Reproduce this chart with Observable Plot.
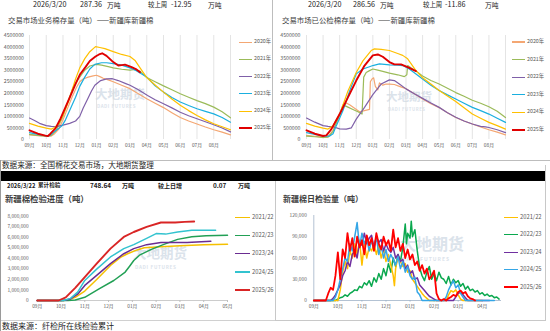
<!DOCTYPE html>
<html><head><meta charset="utf-8">
<script src="https://cdn.jsdelivr.net/npm/d3@7"></script>
<script src="https://cdn.jsdelivr.net/npm/@observablehq/plot@0.6"></script>
<style>
body{margin:0;width:550px;height:331px;overflow:hidden;background:#fff;font-family:"Noto Sans CJK SC",sans-serif;}
#root{position:relative;width:550px;height:331px;overflow:hidden;}
.t{position:absolute;white-space:pre;line-height:1;color:#222;}
.p{position:absolute;}
.b{position:absolute;}
</style></head><body><div id="root"></div>
<script>
// ---------- labels ----------
const monthsTop = ["09月","10月","11月","12月","01月","02月","03月","04月","05月","06月","07月","08月"];
const monthsBottom = ["09月","10月","11月","12月","01月","02月","03月","04月","05月"];
const yearsTop = ["2020年","2021年","2022年","2023年","2024年","2025年"];
const colorsTop = ["#F4A773","#9BBB59","#7F60A8","#1AAFDF","#FFC000","#E00000"];
const seasons = ["2021/22","2022/23","2023/24","2024/25","2025/26"];
const colorsProg = ["#F5C000","#22A055","#6A2C91","#33C3CF","#D92525"];
const colorsDaily = ["#FFC000","#0AA84E","#7030A0","#35A6E6","#FF0000"];

// ---------- 业务棉存量 (万吨), [月序, 值]  月序0 = 9月1日 ----------
const biz2020 = [[0,20],[0.5,17],[1,14],[1.3,15],[1.5,25],[1.75,45],[2,85],[2.3,140],[2.55,185],[2.8,225],[3,250],[3.2,262],[3.5,270],[3.8,275],[4,278],[4.2,272],[4.4,265],[4.7,258],[5,250],[5.5,235],[6,220],[6.5,198],[7,176],[7.5,157],[8,138],[8.5,116],[9,95],[9.5,80],[10,67],[10.5,54],[11,42],[11.5,32],[12,20]];
const biz2021 = [[0,22],[0.5,18],[1,14],[1.3,18],[1.6,40],[2,100],[2.3,165],[2.6,225],[2.95,265],[3.3,300],[3.6,318],[4,325],[4.3,322],[4.7,315],[5,310],[5.5,304],[6,300],[6.3,303],[6.6,296],[7,268],[7.5,250],[8,232],[8.5,215],[9,198],[9.5,183],[10,168],[10.5,155],[11,140],[11.5,120],[12,94]];
const biz2022 = [[0,93],[0.3,82],[0.6,70],[1,60],[1.3,57],[1.6,56],[2,62],[2.4,70],[2.75,80],[3,100],[3.2,135],[3.5,180],[3.7,210],[3.9,235],[4.25,255],[4.6,262],[4.95,263],[5.3,255],[5.75,242],[6,235],[6.5,215],[7.05,190],[7.5,172],[8,155],[8.5,137],[9,118],[9.5,103],[10,90],[10.5,77],[11,64],[11.5,50],[12,33]];
const biz2023 = [[0,30],[0.5,22],[1,15],[1.2,17],[1.45,32],[1.7,45],[1.95,60],[2.15,85],[2.35,118],[2.55,150],[2.75,183],[3,230],[3.3,270],[3.6,305],[3.9,325],[4.3,332],[4.6,332],[5,328],[5.5,322],[6,310],[6.35,299],[7,270],[7.5,232],[8,205],[8.5,182],[9,162],[9.5,147],[10,133],[10.5,122],[11,111],[11.5,95],[12,75]];
const biz2024 = [[0,70],[0.5,58],[1,49],[1.3,45],[1.5,52],[1.75,68],[2,105],[2.35,169],[2.75,262],[3,310],[3.3,350],[3.6,380],[3.94,402],[4.2,398],[4.5,393],[5,380],[5.5,368],[6,359],[6.3,342],[6.6,310],[7,268],[7.5,236],[8,205],[8.5,175],[9,148],[9.5,125],[10,104],[10.5,85],[11,68],[11.5,55],[12,42]];
const biz2025 = [[0,40],[0.5,25],[0.95,17],[1.1,15],[1.25,25],[1.55,48],[1.85,90],[2.15,140],[2.45,190],[2.75,241],[3,280],[3.34,313],[3.6,340],[3.94,359],[4.15,368],[4.34,373],[4.6,362],[5,335],[5.3,320],[5.5,322],[5.7,324],[6.1,313],[6.35,305],[6.6,291]];

// ---------- 已公检棉存量 (万吨) ----------
const ins2020 = [[0,18],[0.5,14],[1,10],[1.3,12],[1.6,40],[1.9,90],[2.2,135],[2.4,158],[2.6,150],[2.9,135],[3.2,120],[3.5,125],[3.8,130],[3.85,250],[3.95,262],[4.05,267],[4.15,230],[4.3,215],[4.4,245],[4.6,235],[4.8,240],[5,240],[5.3,238],[5.6,230],[6,220],[6.5,198],[7,175],[7.5,155],[8,138],[8.5,116],[9,95],[9.5,80],[10,67],[10.5,54],[11,42],[11.5,32],[12,20]];
const ins2021 = [[0,15],[0.5,12],[1,9],[1.3,10],[1.6,35],[1.9,90],[2.2,150],[2.5,140],[2.8,130],[3.1,120],[3.35,110],[3.45,270],[3.6,290],[3.8,298],[4,305],[4.3,300],[4.6,295],[5,287],[5.5,280],[5.9,272],[6.05,280],[6.1,320],[6.3,310],[6.6,296],[7,275],[7.5,255],[8,240],[8.5,222],[9,203],[9.5,187],[10,170],[10.5,157],[11,142],[11.5,122],[12,95]];
const ins2022 = [[0,93],[0.5,75],[1,60],[1.3,57],[1.6,55],[2,46],[2.4,45],[2.7,50],[3,88],[3.5,139],[4,194],[4.5,240],[5,258],[5.3,255],[5.6,240],[6,219],[6.5,198],[7,178],[7.5,158],[8,139],[8.5,116],[9,96],[9.5,80],[10,67],[10.5,57],[10.8,55],[11,52],[11.5,42],[12,30]];
const ins2023 = [[0,30],[0.5,22],[1,15],[1.4,15],[1.6,25],[1.8,60],[2.2,125],[2.6,210],[3,284],[3.4,305],[3.8,315],[4,320],[4.4,327],[5,323],[5.5,322],[5.8,320],[6.2,305],[7,262],[7.5,235],[8,212],[8.5,193],[9,175],[9.5,157],[10,139],[10.5,125],[11,110],[11.5,92],[12,74]];
const ins2024 = [[0,70],[0.5,58],[1,49],[1.3,45],[1.6,60],[2,110],[2.5,210],[3,290],[3.4,340],[3.9,385],[4.1,392],[4.5,390],[5,385],[5.5,372],[5.8,364],[6.1,349],[6.6,298],[7,267],[7.5,240],[8,212],[8.5,188],[9,164],[9.5,137],[10,110],[10.5,92],[11,74],[11.5,60],[12,45]];
const ins2025 = [[0,40],[0.5,25],[1,15],[1.2,18],[1.5,45],[2,110],[2.5,182],[3,255],[3.5,320],[4,364],[4.3,368],[4.6,358],[5,335],[5.3,325],[5.7,325],[6.1,313],[6.6,296]];

// ---------- 检验进度 累计 (万吨) ----------
const prog2122 = [[0,0],[1.1,0],[1.3,5],[1.6,30],[2,90],[2.5,200],[3.08,333],[3.5,410],[3.8,444],[4.2,480],[4.5,500],[5.2,510],[6,520],[7,530],[8,533]];
const prog2223 = [[0,0],[1.3,0],[1.6,5],[2,30],[2.6,110],[3.22,190],[3.7,270],[3.9,330],[4.06,380],[4.3,430],[4.8,485],[5.3,530],[5.9,580],[6.5,605],[7.1,615],[8,620]];
const prog2324 = [[0,0],[1.1,0],[1.4,15],[1.7,60],[2,143],[2.5,238],[3.08,350],[3.64,444],[4.06,492],[4.6,530],[5.2,550],[6.3,550],[7.3,562]];
const prog2425 = [[0,0],[1.1,0],[1.4,20],[1.7,80],[2,190],[2.5,298],[3.08,413],[3.64,492],[4.06,530],[4.6,590],[5,635],[5.4,630],[5.9,650],[6.5,667],[7.5,667]];
const prog2526 = [[0,0],[0.9,0],[1.2,30],[1.6,120],[2,222],[2.5,350],[3.08,492],[3.64,603],[4.06,650],[4.6,698],[5.2,740],[5.8,740],[6.2,746],[6.6,749]];

// ---------- 日检验量 (千吨) ----------
const day2122 = [[0,0],[1,0],[1.1,15],[1.2,40],[1.3,55],[1.4,45],[1.5,70],[1.6,60],[1.7,80],[1.8,65],[1.9,85],[2,50],[2.1,80],[2.2,60],[2.3,75],[2.4,70],[2.5,80],[2.6,65],[2.7,78],[2.8,60],[2.9,72],[3,55],[3.1,65],[3.2,50],[3.3,35],[3.35,21],[3.4,45],[3.5,62],[3.6,55],[3.7,48],[3.8,52],[3.9,40],[4,42],[4.1,30],[4.2,25],[4.3,20],[4.4,15],[4.5,10],[4.6,6],[4.7,3],[4.8,0],[5.5,0],[5.6,8],[5.7,14],[5.8,12],[5.9,15],[6,8],[6.1,2],[6.2,0],[7,0]];
const day2223 = [[0,0],[0.9,0],[1,2],[1.1,4],[1.2,5],[1.3,8],[1.4,6],[1.5,10],[1.6,12],[1.7,15],[1.8,14],[1.9,20],[2,18],[2.1,25],[2.2,22],[2.3,28],[2.4,20],[2.5,32],[2.6,26],[2.7,38],[2.8,30],[2.9,45],[3,35],[3.1,52],[3.2,40],[3.3,60],[3.4,48],[3.5,65],[3.6,55],[3.7,75],[3.8,108],[3.85,80],[3.9,95],[4,88],[4.05,112],[4.1,90],[4.2,100],[4.3,70],[4.4,46],[4.5,35],[4.6,28],[4.7,40],[4.8,48],[4.9,30],[5,38],[5.1,28],[5.2,40],[5.3,32],[5.4,30],[5.5,24],[5.6,34],[5.7,22],[5.8,30],[5.9,25],[6,28],[6.1,20],[6.2,24],[6.3,16],[6.4,20],[6.5,14],[6.6,16],[6.7,12],[6.8,14],[6.9,9],[7,11],[7.1,7],[7.2,9],[7.3,6],[7.4,7],[7.5,4],[7.6,5],[7.7,2]];
const day2324 = [[0,0],[0.7,0],[0.8,3],[0.9,8],[1,15],[1.1,22],[1.2,35],[1.3,42],[1.4,55],[1.5,48],[1.6,65],[1.7,70],[1.8,60],[1.9,82],[2,78],[2.1,95],[2.2,80],[2.3,88],[2.4,92],[2.5,75],[2.6,90],[2.7,82],[2.8,86],[2.9,70],[3,80],[3.1,72],[3.2,68],[3.3,75],[3.4,60],[3.5,65],[3.6,55],[3.7,58],[3.8,45],[3.9,50],[4,38],[4.1,42],[4.2,30],[4.3,32],[4.4,22],[4.5,18],[4.6,14],[4.7,10],[4.8,6],[4.9,4],[5,2],[5.1,0],[5.8,0],[5.9,5],[6,10],[6.1,12],[6.2,8],[6.3,4],[6.4,0],[7.3,0]];
const day2425 = [[0,0],[0.8,0],[0.9,5],[1,15],[1.1,30],[1.2,45],[1.3,60],[1.4,55],[1.5,80],[1.6,70],[1.7,90],[1.8,110],[1.9,75],[2,95],[2.1,80],[2.2,88],[2.3,70],[2.4,85],[2.5,72],[2.6,90],[2.7,65],[2.8,78],[2.9,60],[3,72],[3.1,55],[3.2,65],[3.3,58],[3.4,50],[3.5,62],[3.6,45],[3.7,55],[3.8,40],[3.9,48],[4,35],[4.1,30],[4.2,33],[4.3,12],[4.4,8],[4.5,0],[5.4,0],[5.5,5],[5.6,15],[5.7,22],[5.8,28],[5.9,18],[6,22],[6.1,10],[6.2,5],[6.3,0],[7.5,0]];
const day2526 = [[0,0],[0.5,0],[0.6,10],[0.7,18],[0.8,15],[0.9,35],[1,68],[1.1,30],[1.2,72],[1.3,60],[1.4,95],[1.5,70],[1.6,88],[1.7,62],[1.8,90],[1.9,75],[2,85],[2.1,65],[2.2,92],[2.3,78],[2.4,88],[2.5,70],[2.6,95],[2.7,80],[2.8,72],[2.9,90],[3,78],[3.1,85],[3.2,70],[3.3,100],[3.4,75],[3.5,88],[3.6,70],[3.7,80],[3.8,60],[3.9,72],[4,58],[4.1,65],[4.2,50],[4.3,55],[4.4,42],[4.5,50],[4.6,38],[4.7,45],[4.8,30],[4.9,35],[5,42],[5.1,10],[5.2,2],[5.3,0],[5.4,2],[5.5,0],[5.6,3],[5.7,5],[5.8,8],[5.9,6],[6,12],[6.1,14],[6.2,10],[6.3,12],[6.4,6],[6.5,3],[6.6,2],[6.7,0]];

const bizSeries = [biz2020, biz2021, biz2022, biz2023, biz2024, biz2025];
const insSeries = [ins2020, ins2021, ins2022, ins2023, ins2024, ins2025];
const progSeries = [prog2122, prog2223, prog2324, prog2425, prog2526];
const daySeries = [day2122, day2223, day2324, day2425, day2526];

// ---------- helpers ----------
const root = document.getElementById("root");
const FONT = '"Noto Sans CJK SC", "Noto Sans", sans-serif';
function txt(s, x, y, size, opts = {}) {
  const d = document.createElement("div");
  d.className = "t";
  d.textContent = s;
  d.style.left = x + "px";
  d.style.top = (y - size * 0.58) + "px";
  d.style.fontSize = size + "px";
  if (opts.bold) d.style.fontWeight = "bold";
  if (opts.color) d.style.color = opts.color;
  if (opts.ls) d.style.letterSpacing = opts.ls;
  root.appendChild(d);
  return d;
}
function box(x, y, w, h, bg) {
  const d = document.createElement("div");
  d.className = "b";
  Object.assign(d.style, {left: x + "px", top: y + "px", width: w + "px", height: h + "px", background: bg});
  root.appendChild(d);
}
function place(svg, x, y) {
  const d = document.createElement("div");
  d.className = "p";
  d.style.left = x + "px"; d.style.top = y + "px";
  d.appendChild(svg);
  root.appendChild(d);
}
function legend(x, y0, dy, lw, names, colors, size, thick) {
  names.forEach((n, i) => {
    const y = y0 + i * dy;
    const w = i === names.length - 1 ? thick + 0.6 : thick;
    box(x, y - w / 2, lw, w, colors[i]);
    txt(n, x + lw + 2, y, size, {color: "#595959"});
  });
}
const baseStyle = {fontFamily: FONT, fontSize: "5px", color: "#595959", background: "transparent", overflow: "visible"};
const toRows = (series, names, k) => series.flatMap((arr, i) => arr.map(([m, v]) => ({s: names[i], m, v: v * k})));

function stockChart(series, ml, tp) {
  const rows = toRows(series, yearsTop, 1e4);
  return Plot.plot({
    width: 234, height: 122, marginLeft: ml, marginRight: 4, marginTop: 5, marginBottom: 13,
    style: baseStyle,
    x: {domain: [0, 12], label: null},
    y: {domain: [0, 4500000], label: null},
    marks: [
      Plot.gridX({ticks: d3.range(13), stroke: "#d9d9d9", strokeOpacity: 1, strokeWidth: 0.7}),
      Plot.axisX({ticks: d3.range(12), tickSize: 0, tickPadding: 4, tickFormat: i => monthsTop[i], fontSize: 4.8, label: null}),
      Plot.axisY({ticks: d3.range(0, 4500001, 500000), tickSize: 0, tickPadding: tp, tickFormat: d3.format("d"), fontSize: 5.2, label: null}),
      ...yearsTop.map((y, i) => Plot.line(rows.filter(d => d.s === y), {x: "m", y: "v", stroke: colorsTop[i], strokeWidth: i === 5 ? 1.9 : 1.2}))
    ]
  });
}

// ---------- page frame ----------
box(272, 0, 1, 160, "#bdbdbd");
box(0, 160, 550, 1, "#bdbdbd");
box(0, 171, 545, 10, "#000");
box(275, 181, 1, 139, "#c8c8c8");
box(545, 165, 1, 155, "#c8c8c8");
box(275, 320, 271, 1, "#c8c8c8");
box(0, 320, 275, 1, "#d0d0d0");
box(0, 160, 1, 171, "#9a9a9a");

// watermarks
const WM = "#dbe3eb";
txt("大地期货", 95, 95, 12.5, {color: WM, bold: true});
txt("DADI FUTURES", 97, 107, 4.4, {color: WM, bold: true, ls: "0.6px"});
txt("大地期货", 386, 98, 11.5, {color: WM, bold: true});
txt("DADI FUTURES", 388, 109, 4.2, {color: WM, bold: true, ls: "0.6px"});
txt("大地期货", 133, 254, 13.5, {color: WM, bold: true});
txt("DADI FUTURES", 135, 267.5, 4.6, {color: WM, bold: true, ls: "0.7px"});
txt("大地期货", 400, 244, 16, {color: WM, bold: true});
txt("DADI FUTURES", 402, 258.5, 5, {color: WM, bold: true, ls: "1px"});

// ---------- top headers ----------
txt("2026/3/20", 33, 5.5, 7.2);
txt("287.36", 80, 5.5, 7.2);
txt("万吨", 107, 5.5, 6.8);
txt("较上周", 148, 5.5, 6.4);
txt("-12.95", 171, 5.5, 7.2);
txt("万吨", 208, 5.5, 6.8);
txt("2026/3/20", 308, 5.5, 7.2);
txt("286.56", 353, 5.5, 7.2);
txt("万吨", 380, 5.5, 6.8);
txt("较上周", 423, 5.5, 6.4);
txt("-11.86", 445, 5.5, 7.2);
txt("万吨", 485, 5.5, 6.8);
txt("交易市场业务棉存量（吨）——新疆库新疆棉", 8, 20, 7.4, {color: "#404040"});
txt("交易市场已公检棉存量（吨）——新疆库新疆棉", 282, 20, 7.4, {color: "#404040"});
txt("数据来源：全国棉花交易市场，大地期货整理", 2, 165.5, 7.6, {color: "#222"});

// ---------- bottom headers ----------
txt("2026/3/22", 7, 186.7, 5.8, {bold: true});
txt("累计检验", 38, 186.7, 5.6, {bold: true});
txt("748.64", 90, 186.7, 6.4, {bold: true});
txt("万吨", 122, 186.7, 6, {bold: true});
txt("较上日增", 158, 186.7, 6, {bold: true});
txt("0.07", 213, 186.7, 6.4, {bold: true});
txt("万吨", 238, 186.7, 6, {bold: true});
txt("新疆棉检验进度（吨）", 5, 199.3, 8.4, {bold: true, color: "#404040"});
txt("新疆棉日检验量（吨）", 283, 199.3, 8, {bold: true, color: "#404040"});
txt("数据来源：纤检所在线检验累计", 2, 326.5, 8, {color: "#222"});

// ---------- charts ----------
place(stockChart(bizSeries, 29, 5.5), 0, 30);
place(stockChart(insSeries, 31, 6), 275, 30);

const progRows = toRows(progSeries, seasons, 1e4);
place(Plot.plot({
  width: 232, height: 112, marginLeft: 36.7, marginRight: 5, marginTop: 10.7, marginBottom: 17,
  style: baseStyle,
  x: {domain: [0, 8], label: null},
  y: {domain: [0, 8000000], label: null},
  marks: [
    Plot.ruleY([0], {stroke: "#bfbfbf", strokeWidth: 0.8}),
    Plot.axisX({ticks: d3.range(9), tickSize: 2, tickPadding: 2.5, tickFormat: i => monthsBottom[i], stroke: "#bfbfbf", fontSize: 4.8, label: null}),
    Plot.axisY({ticks: d3.range(0, 8000001, 1000000), tickSize: 0, tickPadding: 8.5, tickFormat: d3.format(","), fontSize: 4.8, label: null}),
    ...seasons.map((s, i) => Plot.line(progRows.filter(d => d.s === s), {x: "m", y: "v", stroke: colorsProg[i], strokeWidth: i === 4 ? 1.9 : 1.5}))
  ]
}), 0, 205);

const dayRows = toRows(daySeries, seasons, 1e3);
const dayOrder = [1, 0, 2, 3, 4];
place(Plot.plot({
  width: 230, height: 112, marginLeft: 38.3, marginRight: 4, marginTop: 10, marginBottom: 17,
  style: baseStyle,
  x: {domain: [0, 7.8], label: null},
  y: {domain: [0, 120000], label: null},
  marks: [
    Plot.ruleY([0], {stroke: "#9fb3c8", strokeWidth: 0.8}),
    Plot.ruleX([0], {stroke: "#9fb3c8", strokeWidth: 0.8}),
    Plot.axisX({ticks: d3.range(8), tickSize: 1.5, tickPadding: 2.5, tickFormat: i => monthsBottom[i], stroke: "#9fb3c8", fontSize: 4.8, label: null}),
    Plot.axisY({ticks: d3.range(0, 120001, 30000), tickSize: 0, tickPadding: 7, tickFormat: d3.format(","), fontSize: 4.8, label: null}),
    ...dayOrder.map(i => Plot.line(dayRows.filter(d => d.s === seasons[i]), {x: "m", y: "v", stroke: colorsDaily[i], strokeWidth: i === 4 ? 1.8 : 1.5}))
  ]
}), 275, 205);

// ---------- legends ----------
legend(239, 42.3, 17.2, 13, yearsTop, colorsTop, 5.3, 1.2);
legend(512, 42, 17.6, 13, yearsTop, colorsTop, 5.3, 1.2);
legend(235, 217.3, 18.2, 15, seasons, colorsProg, 5.8, 1.4);
legend(504, 217.3, 17.5, 14, seasons, colorsDaily, 5.8, 1.4);
</script></body></html>
